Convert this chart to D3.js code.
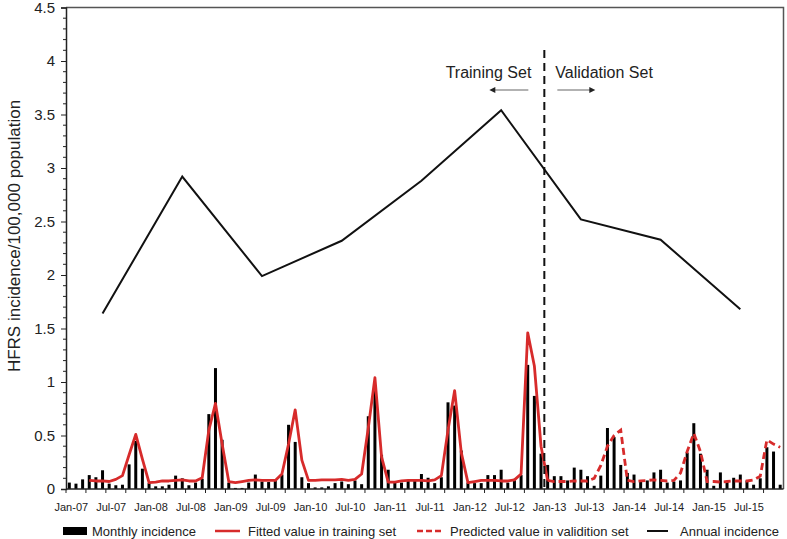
<!DOCTYPE html>
<html>
<head>
<meta charset="utf-8">
<script src="https://cdn.jsdelivr.net/npm/d3@7"></script>
<style>
  body { margin: 0; background: #fff; }
  text { font-family: "Liberation Sans", Arial, sans-serif; fill: #222; }
</style>
</head>
<body>
<div id="chart"></div>
<script>
// data
var years = [2007, 2008, 2009, 2010, 2011, 2012, 2013, 2014, 2015];
var monthNames = ["Jan", "Feb", "Mar", "Apr", "May", "Jun", "Jul", "Aug", "Sep", "Oct", "Nov", "Dec"];

var monthly = [
  0.06, 0.05, 0.09, 0.13, 0.11, 0.175, 0.05, 0.035, 0.04, 0.23, 0.45, 0.19,
  0.055, 0.025, 0.025, 0.04, 0.125, 0.1, 0.035, 0.06, 0.095, 0.7, 1.13, 0.46,
  0.06, 0.01, 0.01, 0.06, 0.135, 0.07, 0.065, 0.09, 0.135, 0.6, 0.44, 0.11,
  0.055, 0.015, 0.015, 0.025, 0.055, 0.07, 0.045, 0.08, 0.045, 0.68, 0.92, 0.32,
  0.18, 0.06, 0.06, 0.075, 0.08, 0.14, 0.105, 0.055, 0.11, 0.81, 0.78, 0.36,
  0.06, 0.055, 0.055, 0.13, 0.13, 0.18, 0.06, 0.095, 0.13, 1.16, 0.87, 0.33,
  0.225, 0.12, 0.12, 0.08, 0.2, 0.18, 0.12, 0.03, 0.125, 0.57, 0.485, 0.225,
  0.15, 0.135, 0.08, 0.08, 0.155, 0.18, 0.06, 0.07, 0.08, 0.34, 0.615, 0.33,
  0.18, 0.03, 0.155, 0.07, 0.105, 0.135, 0.08, 0.04, 0.1, 0.39, 0.35, 0.04
];

// fitted values, Apr-07 (index 3) .. Jan-13 (index 72)
var fittedStart = 3;
var fitted = [
  0.08, 0.075, 0.075, 0.07, 0.09, 0.125, 0.32, 0.51, 0.28,
  0.06, 0.065, 0.075, 0.075, 0.08, 0.085, 0.075, 0.075, 0.105, 0.55, 0.8, 0.42,
  0.07, 0.06, 0.07, 0.08, 0.085, 0.08, 0.08, 0.08, 0.14, 0.42, 0.74, 0.27,
  0.08, 0.08, 0.085, 0.085, 0.085, 0.09, 0.08, 0.09, 0.14, 0.57, 1.04, 0.3,
  0.065, 0.065, 0.075, 0.08, 0.08, 0.08, 0.075, 0.085, 0.125, 0.55, 0.92, 0.34,
  0.06, 0.07, 0.08, 0.08, 0.08, 0.075, 0.075, 0.085, 0.14, 1.46, 1.15, 0.4,
  0.08
];

// predicted values, Jan-13 (index 72) .. Dec-15
var predictedStart = 72;
var predicted = [
  0.08, 0.07, 0.07, 0.07, 0.075, 0.075, 0.075, 0.1, 0.22, 0.4, 0.5, 0.55,
  0.08, 0.07, 0.075, 0.08, 0.085, 0.08, 0.075, 0.08, 0.15, 0.35, 0.52, 0.35,
  0.07, 0.07, 0.065, 0.07, 0.075, 0.075, 0.075, 0.085, 0.12, 0.46, 0.42, 0.39
];

// annual incidence, plotted at mid-year (June)
var annual = [1.64, 2.92, 1.99, 2.32, 2.88, 3.54, 2.52, 2.33, 1.68];

var yTicks = [0, 0.5, 1, 1.5, 2, 2.5, 3, 3.5, 4, 4.5];

var width = 787, height = 539;
var margin = { top: 7.5, right: 3.5, bottom: 50, left: 66 };
var red = "#d72b2b";

var months = [];
years.forEach(function (y) {
  monthNames.forEach(function (m) {
    months.push(m + "-" + String(y).slice(2));
  });
});

var svg = d3.select("#chart").append("svg")
  .attr("width", width)
  .attr("height", height);

var x = d3.scaleBand()
  .domain(months)
  .range([margin.left, width - margin.right])
  .paddingInner(0.55)
  .paddingOuter(0.275);

var y = d3.scaleLinear()
  .domain([0, 4.5])
  .range([height - margin.bottom, margin.top]);

var cx = function (i) { return x(months[i]) + x.bandwidth() / 2; };

// frame (top + right)
svg.append("path")
  .attr("d", "M" + margin.left + "," + margin.top + "H" + (width - margin.right) + "V" + y(0))
  .attr("fill", "none")
  .attr("stroke", "#555")
  .attr("stroke-width", 1.5);

// monthly bars
svg.selectAll(".bar")
  .data(monthly)
  .enter().append("rect")
  .attr("class", "bar")
  .attr("x", function (d, i) { return x(months[i]); })
  .attr("y", function (d) { return y(d); })
  .attr("width", x.bandwidth())
  .attr("height", function (d) { return y(0) - y(d); })
  .attr("fill", "#000");

// fitted (solid) and predicted (dashed)
var line = d3.line()
  .x(function (d) { return cx(d.i); })
  .y(function (d) { return y(d.v); });

svg.append("path")
  .datum(fitted.map(function (v, k) { return { i: fittedStart + k, v: v }; }))
  .attr("d", line)
  .attr("fill", "none")
  .attr("stroke", red)
  .attr("stroke-width", 2.8)
  .attr("stroke-linejoin", "round");

svg.append("path")
  .datum(predicted.map(function (v, k) { return { i: predictedStart + k, v: v }; }))
  .attr("d", line)
  .attr("fill", "none")
  .attr("stroke", red)
  .attr("stroke-width", 2.8)
  .attr("stroke-dasharray", "7,4");

// annual incidence
svg.append("path")
  .datum(annual.map(function (v, k) { return { i: k * 12 + 5, v: v }; }))
  .attr("d", line)
  .attr("fill", "none")
  .attr("stroke", "#111")
  .attr("stroke-width", 2);

// axes
var step = x.step();
var xAxisG = svg.append("g").attr("transform", "translate(0," + y(0) + ")");
xAxisG.append("line")
  .attr("x1", margin.left).attr("x2", width - margin.right)
  .attr("stroke", "#222").attr("stroke-width", 1.5);
var boundary = function (i) { return x(months[i]) - step * x.paddingInner() / 2; };
xAxisG.selectAll(".xt")
  .data(d3.range(0, months.length, 3))
  .enter().append("line")
  .attr("x1", function (i) { return boundary(i); })
  .attr("x2", function (i) { return boundary(i); })
  .attr("y1", 0).attr("y2", 4)
  .attr("stroke", "#222");
xAxisG.selectAll(".xl")
  .data(d3.range(0, months.length, 6))
  .enter().append("text")
  .attr("x", function (i) { return cx(i) + 2; })
  .attr("y", 22)
  .attr("text-anchor", "middle")
  .attr("font-size", "11px")
  .text(function (i) { return months[i]; });

var yAxis = d3.axisLeft(y).tickValues(yTicks).tickSize(5).tickPadding(6)
  .tickFormat(function (d) { return d; });
var yAxisG = svg.append("g")
  .attr("transform", "translate(" + margin.left + ",0)")
  .call(yAxis);
yAxisG.select(".domain").attr("stroke", "#222").attr("stroke-width", 1.5);
yAxisG.selectAll(".tick line").attr("stroke", "#222");
yAxisG.selectAll(".tick text")
  .attr("font-size", "15px")
  .attr("font-family", "Liberation Sans, Arial, sans-serif")
  .attr("fill", "#222");
yAxisG.selectAll(".minor")
  .data(d3.range(0, 45).filter(function (k) { return k % 5 !== 0; }))
  .enter().append("line")
  .attr("x1", -3).attr("x2", 0)
  .attr("y1", function (k) { return y(k / 10); })
  .attr("y2", function (k) { return y(k / 10); })
  .attr("stroke", "#222");

svg.append("text")
  .attr("transform", "translate(14," + 236 + ") rotate(-90)")
  .attr("text-anchor", "middle")
  .attr("dominant-baseline", "central")
  .attr("font-size", "17px")
  .text("HFRS incidence/100,000 population");

// training / validation split
var splitX = boundary(predictedStart);
svg.append("line")
  .attr("x1", splitX).attr("x2", splitX)
  .attr("y1", 50).attr("y2", y(0))
  .attr("stroke", "#111")
  .attr("stroke-width", 2)
  .attr("stroke-dasharray", "8,5");

svg.append("text").attr("x", splitX - 13).attr("y", 78)
  .attr("text-anchor", "end").attr("font-size", "16px").text("Training Set");
svg.append("text").attr("x", splitX + 11).attr("y", 78)
  .attr("text-anchor", "start").attr("font-size", "16px").text("Validation Set");

var arrow = function (x1, x2) {
  svg.append("line").attr("x1", x1).attr("x2", x2).attr("y1", 90).attr("y2", 90)
    .attr("stroke", "#999").attr("stroke-width", 1.5);
  var dir = x2 > x1 ? 1 : -1;
  svg.append("path")
    .attr("d", "M" + (x2 + dir * 3) + ",90L" + (x2 - dir * 3) + ",87L" + (x2 - dir * 3) + ",93Z")
    .attr("fill", "#222");
};
arrow(splitX - 16, splitX - 52);
arrow(splitX + 13, splitX + 48);

// legend
var lg = svg.append("g").attr("transform", "translate(0,531)");
lg.append("rect").attr("x", 63).attr("y", -4).attr("width", 24).attr("height", 8).attr("fill", "#000");
lg.append("text").attr("x", 92).attr("y", 0).attr("dominant-baseline", "central")
  .attr("font-size", "13px").text("Monthly incidence");
lg.append("line").attr("x1", 215).attr("x2", 240).attr("stroke", red).attr("stroke-width", 2.5);
lg.append("text").attr("x", 248).attr("y", 0).attr("dominant-baseline", "central")
  .attr("font-size", "13px").text("Fitted value in training set");
lg.append("line").attr("x1", 417).attr("x2", 442).attr("stroke", red).attr("stroke-width", 2.5)
  .attr("stroke-dasharray", "6,3");
lg.append("text").attr("x", 450).attr("y", 0).attr("dominant-baseline", "central")
  .attr("font-size", "13px").text("Predicted value in validition set");
lg.append("line").attr("x1", 647).attr("x2", 668).attr("stroke", "#111").attr("stroke-width", 2);
lg.append("text").attr("x", 680).attr("y", 0).attr("dominant-baseline", "central")
  .attr("font-size", "13px").text("Annual incidence");
</script>
</body>
</html>
